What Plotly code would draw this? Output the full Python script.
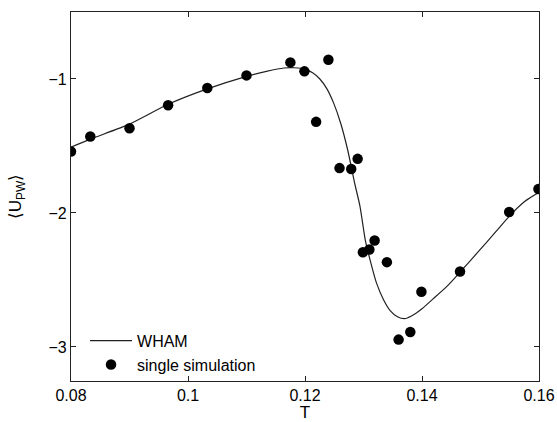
import plotly.graph_objects as go

# single simulation data
sim_T = [0.0800, 0.0833, 0.0900, 0.0966, 0.1033, 0.1100, 0.1175, 0.1199, 0.1219, 0.1240,
         0.1259, 0.1279, 0.1290, 0.1299, 0.1310, 0.1319, 0.1340, 0.1360, 0.1380, 0.1399,
         0.1465, 0.1549, 0.1599]
sim_U = [-1.541, -1.429, -1.367, -1.196, -1.067, -0.973, -0.876, -0.943, -1.320, -0.856,
         -1.665, -1.672, -1.596, -2.293, -2.273, -2.206, -2.367, -2.945, -2.888, -2.588,
         -2.437, -1.993, -1.821]

# WHAM curve
wham_T = [0.0800, 0.0833, 0.0900, 0.0966, 0.1033, 0.1100, 0.1134, 0.1164, 0.1182, 0.1200,
          0.1213, 0.1225, 0.1237, 0.1249, 0.1261, 0.1273, 0.1285, 0.1294, 0.1303, 0.1313,
          0.1322, 0.1334, 0.1346, 0.1358, 0.1370, 0.1382, 0.1400, 0.1418, 0.1443, 0.1465,
          0.1497, 0.1527, 0.1549, 0.1576, 0.1600]
wham_U = [-1.509, -1.449, -1.337, -1.189, -1.074, -0.980, -0.943, -0.918, -0.916, -0.926,
          -0.953, -0.998, -1.070, -1.180, -1.330, -1.530, -1.780, -1.950, -2.200, -2.380,
          -2.520, -2.645, -2.730, -2.774, -2.789, -2.769, -2.715, -2.645, -2.546, -2.442,
          -2.285, -2.136, -2.025, -1.913, -1.846]

x_ticks = [0.08, 0.1, 0.12, 0.14, 0.16]
x_ticklabels = ["0.08", "0.1", "0.12", "0.14", "0.16"]
y_ticks = [-3, -2, -1]
y_ticklabels = ["\u22123", "\u22122", "\u22121"]

FONT = "Liberation Sans, Arial, sans-serif"

fig = go.Figure()
fig.add_trace(go.Scatter(x=wham_T, y=wham_U, mode="lines", name="WHAM",
                         line=dict(color="#222222", width=1.2, shape="spline", smoothing=0.6)))
fig.add_trace(go.Scatter(x=sim_T, y=sim_U, mode="markers", name="single simulation",
                         marker=dict(color="black", size=10.5)))

axis_common = dict(showline=True, linecolor="#222222", linewidth=1.2, mirror="ticks",
                   ticks="inside", ticklen=5, tickcolor="#222222", showgrid=False,
                   zeroline=False, automargin=False,
                   tickfont=dict(family=FONT, size=16, color="black"))

fig.update_xaxes(range=[0.08, 0.16], tickvals=x_ticks, ticktext=x_ticklabels,
                 title=dict(text="T", font=dict(family=FONT, size=17, color="black"), standoff=0),
                 **axis_common)
fig.update_yaxes(range=[-3.254, -0.5], tickvals=y_ticks, ticktext=y_ticklabels,
                 title=dict(text="\u27e8U<sub>PW</sub>\u27e9", font=dict(family=FONT, size=17, color="black"), standoff=22),
                 **axis_common)

fig.update_layout(
    width=557, height=422,
    margin=dict(l=71, r=18, t=12, b=41),
    paper_bgcolor="white", plot_bgcolor="white",
    showlegend=True,
    legend=dict(x=0.03, y=-0.002, xanchor="left", yanchor="bottom",
                bgcolor="rgba(0,0,0,0)", font=dict(family=FONT, size=16, color="black"),
                itemwidth=42, tracegroupgap=0),
    font=dict(family=FONT),
)

fig.write_html("out.html")
